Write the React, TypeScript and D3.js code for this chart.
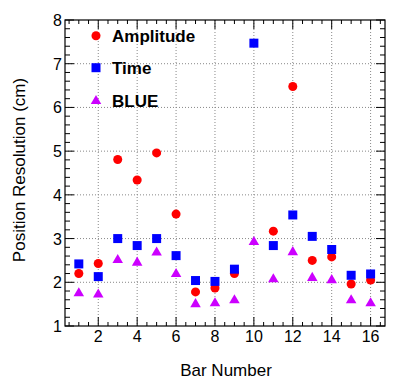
import React, { useEffect, useRef } from "react";
import * as d3 from "d3";

// bar numbers 1..16
const bars = [1, 2, 3, 4, 5, 6, 7, 8, 9, 10, 11, 12, 13, 14, 15, 16];

// position resolution (cm) per bar, null = not shown
const amplitude = [2.2, 2.43, 4.81, 4.34, 4.96, 3.56, 1.78, 1.87, 2.2, null, 3.17, 6.48, 2.5, 2.58, 1.96, 2.05];
const time = [2.42, 2.13, 3.0, 2.84, 3.0, 2.61, 2.04, 2.02, 2.3, 7.47, 2.84, 3.54, 3.05, 2.75, 2.16, 2.19];
const blue = [1.75, 1.72, 2.51, 2.45, 2.68, 2.19, 1.5, 1.52, 1.59, 2.92, 2.07, 2.69, 2.1, 2.05, 1.59, 1.52];

const xTicks = [2, 4, 6, 8, 10, 12, 14, 16];
const yTicks = [1, 2, 3, 4, 5, 6, 7, 8];

const seriesNames = ["Amplitude", "Time", "BLUE"];
const seriesColors = ["#ff0000", "#0000ff", "#cc00ff"];

const FONT = "'Liberation Sans', Arial, Helvetica, sans-serif";

const App = () => {
  const svgRef = useRef<SVGSVGElement>(null);

  useEffect(() => {
    const svg = d3.select(svgRef.current);
    svg.selectAll("*").remove();

    const width = 406, height = 388;
    const left = 65, right = 385, top = 20, bottom = 326;

    const x = d3.scaleLinear().domain([0.29, 16.74]).range([left, right]);
    const y = d3.scaleLinear().domain([1, 8]).range([bottom, top]);

    svg.append("rect").attr("width", width).attr("height", height).attr("fill", "#fff");

    // grid
    const grid = svg.append("g").attr("stroke", "#888").attr("stroke-width", 1).attr("stroke-dasharray", "1,2");
    xTicks.forEach((t) => {
      grid.append("line").attr("x1", x(t)).attr("x2", x(t)).attr("y1", top).attr("y2", bottom);
    });
    yTicks.slice(1, -1).forEach((t) => {
      grid.append("line").attr("x1", left).attr("x2", right).attr("y1", y(t)).attr("y2", y(t));
    });

    // ticks on all four sides
    const tk = svg.append("g").attr("stroke", "#000").attr("stroke-width", 1);
    const xMinor = d3.range(0.5, 16.74, 0.5);
    xMinor.forEach((t) => {
      const major = t % 2 === 0;
      const len = major ? 9 : 4;
      tk.append("line").attr("x1", x(t)).attr("x2", x(t)).attr("y1", bottom).attr("y2", bottom - len);
      tk.append("line").attr("x1", x(t)).attr("x2", x(t)).attr("y1", top).attr("y2", top + len);
    });
    const yMinor = d3.range(1, 8.001, 0.2);
    yMinor.forEach((t) => {
      const major = Math.abs(t - Math.round(t)) < 1e-6;
      const len = major ? 9 : 5;
      tk.append("line").attr("x1", left).attr("x2", left + len).attr("y1", y(t)).attr("y2", y(t));
      tk.append("line").attr("x1", right).attr("x2", right - len).attr("y1", y(t)).attr("y2", y(t));
    });

    // frame
    svg.append("rect")
      .attr("x", left).attr("y", top)
      .attr("width", right - left).attr("height", bottom - top)
      .attr("fill", "none").attr("stroke", "#000").attr("stroke-width", 1.2);

    // tick labels
    svg.append("g").selectAll("text").data(xTicks).join("text")
      .attr("x", (d) => x(d)).attr("y", 342)
      .attr("text-anchor", "middle")
      .style("font-family", FONT).style("font-size", "16px")
      .text((d) => d);
    svg.append("g").selectAll("text").data(yTicks).join("text")
      .attr("x", 62).attr("y", (d) => y(d) + 6)
      .attr("text-anchor", "end")
      .style("font-family", FONT).style("font-size", "16px")
      .text((d) => d);

    // axis titles
    svg.append("text")
      .attr("x", 226).attr("y", 376)
      .attr("text-anchor", "middle")
      .style("font-family", FONT).style("font-size", "17px")
      .text("Bar Number");
    svg.append("text")
      .attr("transform", `translate(25, 170) rotate(-90)`)
      .attr("text-anchor", "middle")
      .style("font-family", FONT).style("font-size", "17px")
      .text("Position Resolution (cm)");

    // markers
    const symbols = [d3.symbolCircle, d3.symbolSquare, d3.symbolTriangle];
    const sizes = [64, 81, 48];
    const allSeries = [amplitude, time, blue];

    allSeries.forEach((vals, si) => {
      const pts = bars.map((b, i) => [b, vals[i]] as [number, number | null]).filter((p) => p[1] != null);
      svg.append("g").selectAll("path").data(pts).join("path")
        .attr("transform", (d) => `translate(${x(d[0])},${y(d[1] as number)})`)
        .attr("d", d3.symbol().type(symbols[si]).size(sizes[si])())
        .attr("fill", seriesColors[si]);
    });

    // legend
    const legY = [35.7, 67.7, 101];
    seriesNames.forEach((name, i) => {
      svg.append("path")
        .attr("transform", `translate(96,${legY[i]})`)
        .attr("d", d3.symbol().type(symbols[i]).size(sizes[i])())
        .attr("fill", seriesColors[i]);
      svg.append("text")
        .attr("x", 112).attr("y", legY[i] + 6)
        .style("font-family", FONT).style("font-size", "17px").style("font-weight", "bold")
        .text(name);
    });
  }, []);

  return <svg ref={svgRef} width={406} height={388} style={{ display: "block", position: "absolute", left: 0, top: 0 }}></svg>;
};

export default App;
